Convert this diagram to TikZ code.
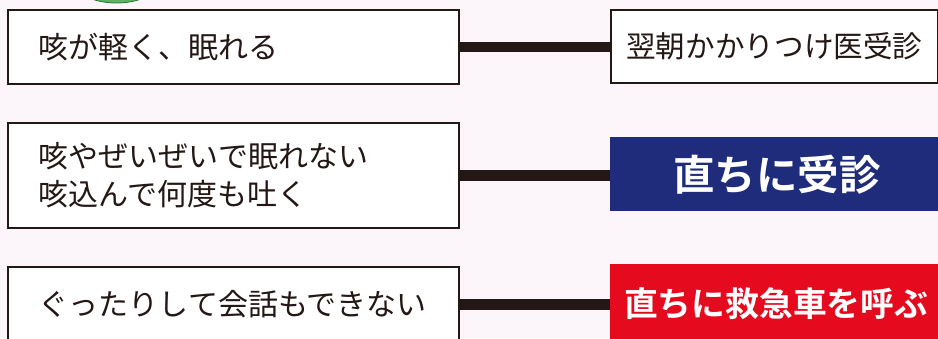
\documentclass[tikz,border=0pt]{standalone}
\usepackage{fontspec}
\setmainfont{Noto Sans CJK JP}
\newfontfamily\jpbold{Noto Sans CJK JP}[UprightFont=* Bold]
\definecolor{bgpink}{HTML}{FCF6FB}
\definecolor{linedark}{HTML}{231815}
\definecolor{boxnavy}{HTML}{1F2C7C}
\definecolor{boxred}{HTML}{E60A1E}
\definecolor{leafgreen}{HTML}{3FA64A}
\tikzset{
  leftbox/.style={draw=linedark, line width=1.8pt, fill=white, anchor=north west,
    minimum width=451pt, text width=389pt, inner xsep=31pt, inner ysep=0pt,
    align=left, font=\fontsize{30pt}{38pt}\selectfont, text=linedark},
  rightbox/.style={draw=linedark, line width=1.8pt, fill=white, anchor=north west,
    minimum width=327pt, inner sep=0pt, font=\fontsize{29.6pt}{36pt}\selectfont, text=linedark},
  colbox/.style={anchor=north west, inner sep=0pt, text=white},
  connector/.style={draw=linedark, line width=10.5pt}
}
\begin{document}
\begin{tikzpicture}[x=1pt,y=-1pt]
\useasboundingbox (0,0) rectangle (938,338);
\fill[bgpink] (0,0) rectangle (938,338);
\clip (0,0) rectangle (938,338);
% green shape at top
\fill[leafgreen!85!white, draw=leafgreen!70!black, line width=0.8pt] (116.5,-18) ellipse [x radius=42, y radius=21];
% left boxes
\node[leftbox, minimum height=74pt] (b1) at (7,9) {咳が軽く、眠れる};
\node[leftbox, minimum height=105pt] (b2) at (7,122) {咳やぜいぜいで眠れない\\咳込んで何度も吐く};
\node[leftbox, minimum height=75pt] (b3) at (7,266) {ぐったりして会話もできない};
% right boxes
\node[rightbox, minimum height=73pt] (r1) at (610,9) {翌朝かかりつけ医受診};
\node[colbox, fill=boxnavy, minimum width=334pt, minimum height=74pt,
  font=\jpbold\fontsize{41.5pt}{44pt}\selectfont] (r2) at (610,137) {直ちに受診};
\node[colbox, fill=boxred, minimum width=332pt, minimum height=78pt,
  font=\jpbold\fontsize{33.8pt}{36pt}\selectfont] (r3) at (610,264) {直ちに救急車を呼ぶ};
% connectors
\draw[connector] (b1.east) -- (b1.east -| r1.west);
\draw[connector] (b2.east) -- (b2.east -| r2.west);
\draw[connector] (b3.east) -- (b3.east -| r3.west);
\end{tikzpicture}
\end{document}
